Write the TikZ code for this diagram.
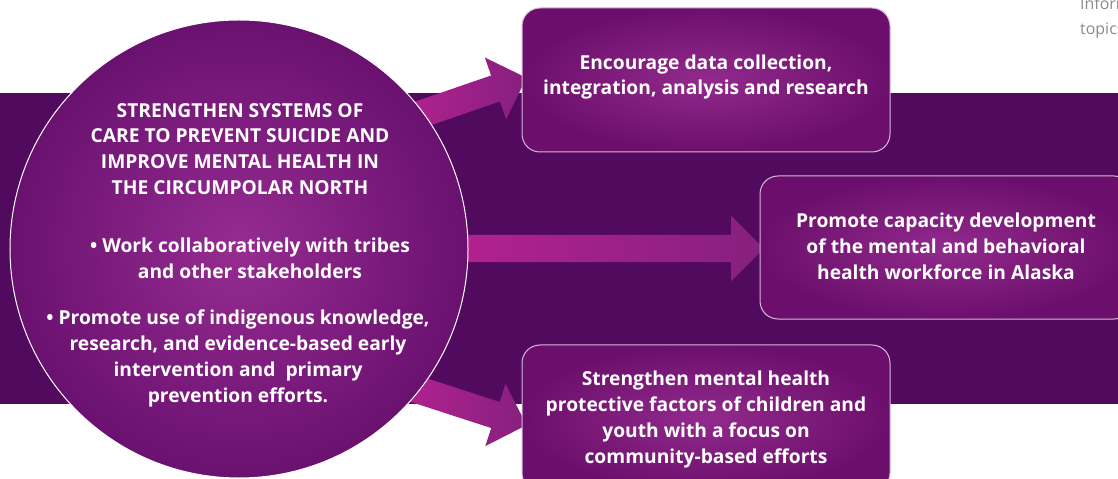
\documentclass[tikz,border=0pt]{standalone}
\usepackage{fontspec}
\setmainfont{Open Sans}
\newfontfamily\notefont{Open Sans}
\usetikzlibrary{shapes.arrows}

\definecolor{bandpurple}{HTML}{520A5E}
\definecolor{goalin}{HTML}{962C91}
\definecolor{goalout}{HTML}{6A1170}
\definecolor{aimin}{HTML}{922A8D}
\definecolor{aimout}{HTML}{6C0F6C}
\definecolor{aimline}{HTML}{D8B8DA}
\definecolor{arrowl}{HTML}{B42190}
\definecolor{arrowr}{HTML}{86207F}
\definecolor{notegrey}{HTML}{8A8A8A}
\newcommand\bodyfont{\bfseries\fontsize{19.3}{26}\selectfont}

\begin{document}
\begin{tikzpicture}[x=1bp, y=1bp,
    goal/.style={circle, draw=white, line width=1bp, inner color=goalin, outer color=goalout, minimum size=458bp, inner sep=0pt},
    aim/.style={rectangle, rounded corners=18bp, draw=aimline, line width=1bp, inner color=aimin, outer color=aimout, minimum width=368bp, minimum height=144bp},
    words/.style={text=white, font=\bodyfont, align=center, inner sep=0pt},
    push/.style={single arrow, draw=none, left color=arrowl, right color=arrowr, inner xsep=0pt, inner ysep=13.5bp, minimum width=0pt, single arrow head extend=19bp, single arrow tip angle=90}]
    \useasboundingbox (0,0) rectangle (1118,-479);
    \clip (0,0) rectangle (1118,-479);

    % band behind everything
    \fill[bandpurple] (0,-93) rectangle (1118,-404);

    % block arrows
    \node[push, minimum height=130bp, rotate=19] (uparrow) at (458.5,-101.2) {};
    \node[push, minimum height=317bp] (midarrow) at (598.5,-248.5) {};
    \node[push, minimum height=130bp, rotate=-18] (downarrow) at (458.2,-402.9) {};

    % goal circle
    \node[goal] (goal) at (239,-249) {};
    \node[words] (title) at (240,-149) {STRENGTHEN SYSTEMS OF\\CARE TO PREVENT SUICIDE AND\\IMPROVE MENTAL HEALTH IN\\THE CIRCUMPOLAR NORTH};
    \node[words] (tribes) at (250,-258) {\textbullet\ Work collaboratively with tribes\\and other stakeholders};
    \node[words] (lore) at (238,-358.5) {\textbullet\ Promote use of indigenous knowledge,\\research, and evidence-based early\\intervention and\ \ primary\\prevention efforts.};

    % the three aims
    \node[aim] (data) at (706,-80) {};
    \node[words] (datatext) at (706,-77) {Encourage data collection,\\integration, analysis and research};
    \node[aim, minimum width=372bp, minimum height=143bp] (workforce) at (946,-247.5) {};
    \node[words] (workforcetext) at (946,-246) {Promote capacity development\\of the mental and behavioral\\health workforce in Alaska};
    \node[aim, minimum height=146bp] (youth) at (706,-418) {};
    \node[words] (youthtext) at (706,-419.5) {Strengthen mental health\\protective factors of children and\\youth with a focus on\\community-based efforts};

    % cut-off side note
    \node[anchor=base west, inner sep=0pt, text=notegrey, font=\notefont\fontsize{16}{25}\selectfont] (note1) at (1080,-10) {Information};
    \node[anchor=base west, inner sep=0pt, text=notegrey, font=\notefont\fontsize{16}{25}\selectfont] (note2) at (1080,-35) {topics};
\end{tikzpicture}
\end{document}
